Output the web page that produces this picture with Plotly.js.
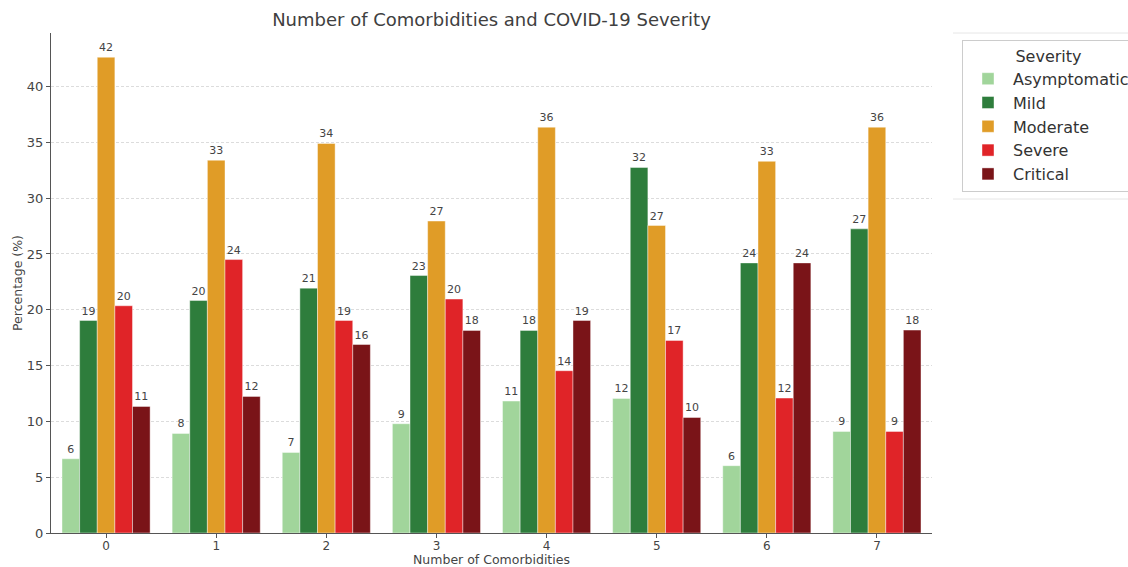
<!DOCTYPE html>
<html>
<head>
<meta charset="utf-8">
<script src="https://cdn.plot.ly/plotly-3.0.1.min.js"></script>
<style>
  html, body { margin: 0; padding: 0; background: #fff; }
  #chart { width: 1128px; height: 567px; }
</style>
</head>
<body>
<div id="chart"></div>
<script>
// Share of patients (%) in each severity class, by number of comorbidities
const comorbidities = ['0', '1', '2', '3', '4', '5', '6', '7'];
const asymptomatic = [6.65, 8.92, 7.22, 9.79, 11.82, 12.06, 6.03, 9.10];
const mild         = [19.04, 20.83, 21.94, 23.07, 18.15, 32.75, 24.20, 27.25];
const moderate     = [42.63, 33.40, 34.90, 27.95, 36.36, 27.55, 33.30, 36.36];
const severe       = [20.36, 24.50, 19.04, 20.96, 14.54, 17.25, 12.09, 9.10];
const critical     = [11.34, 12.24, 16.89, 18.15, 19.04, 10.35, 24.20, 18.18];

const severityNames = ['Asymptomatic', 'Mild', 'Moderate', 'Severe', 'Critical'];
const severityColors = ['#a1d59b', '#2e7d3c', '#e09c27', '#e02428', '#7a1418'];
const seriesValues = [asymptomatic, mild, moderate, severe, critical];

const FONT = 'DejaVu Sans, Liberation Sans, sans-serif';
const xIdx = comorbidities.map(function (_, i) { return i; });

const traces = seriesValues.map(function (vals, k) {
  return {
    type: 'bar',
    name: severityNames[k],
    x: xIdx,
    y: vals,
    text: vals.map(function (v) { return String(Math.floor(v)); }),
    textposition: 'outside',
    textfont: { family: FONT, size: 11, color: '#444' },
    constraintext: 'none',
    cliponaxis: false,
    marker: { color: severityColors[k], line: { color: 'rgba(255,255,255,0.7)', width: 0.6 } },
    hoverinfo: 'name+y'
  };
});

// plot area spans x 51..932 px and y 33..533 px
const PL = 51, PW = 881, PB = 533, PH = 500;

const layout = {
  width: 1128,
  height: 567,
  paper_bgcolor: '#ffffff',
  plot_bgcolor: '#ffffff',
  margin: { l: PL, r: 1128 - PL - PW, t: PB - PH, b: 567 - PB, autoexpand: false },
  barmode: 'group',
  bargap: 0.2,
  bargroupgap: 0,
  font: { family: FONT, color: '#444' },
  title: {
    text: 'Number of Comorbidities and COVID-19 Severity',
    font: { family: FONT, size: 18, color: '#404040' },
    x: 0.4357, xanchor: 'center',
    y: 0.965, yanchor: 'middle'
  },
  xaxis: {
    range: [-0.5, 7.5],
    tickmode: 'array',
    tickvals: xIdx,
    ticktext: comorbidities,
    ticks: 'outside', ticklen: 4, tickcolor: '#555', tickwidth: 1,
    ticklabelstandoff: -3,
    tickfont: { family: FONT, size: 12, color: '#444' },
    showline: true, linecolor: '#555', linewidth: 1.3,
    showgrid: false, zeroline: false
  },
  yaxis: {
    range: [0, 44.8],
    dtick: 5,
    ticks: 'outside', ticklen: 4, tickcolor: '#555', tickwidth: 1,
    tickfont: { family: FONT, size: 13, color: '#444' },
    showline: true, linecolor: '#555', linewidth: 1.3,
    showgrid: true, gridcolor: '#dcdcdc', gridwidth: 1, griddash: '3px,2px',
    zeroline: false
  },
  annotations: [
    { text: 'Number of Comorbidities', xref: 'paper', yref: 'paper',
      x: (491.5 - PL) / PW, y: (PB - 559.5) / PH, xanchor: 'center', yanchor: 'middle',
      borderpad: 0,
      showarrow: false, font: { family: FONT, size: 12.5, color: '#444' } },
    { text: 'Percentage (%)', xref: 'paper', yref: 'paper', textangle: -90,
      x: (17 - PL) / PW, y: (PB - 283) / PH, xanchor: 'center', yanchor: 'middle',
      showarrow: false, font: { family: FONT, size: 12.5, color: '#444' } }
  ],
  legend: {
    xref: 'container', yref: 'container',
    x: 962 / 1128, xanchor: 'left',
    y: 1 - 40 / 567, yanchor: 'top',
    bgcolor: '#ffffff',
    bordercolor: '#cccccc', borderwidth: 1,
    font: { family: FONT, size: 16, color: '#333' },
    title: { text: 'Severity', side: 'top center', font: { family: FONT, size: 16, color: '#333' } },
    tracegroupgap: 0,
    itemwidth: 40
  },
  shapes: [
    { type: 'line', xref: 'paper', yref: 'paper', x0: (953 - PL) / PW, x1: (1128 - PL) / PW, y0: 1, y1: 1,
      line: { color: '#e6e6e6', width: 1 } },
    { type: 'line', xref: 'paper', yref: 'paper', x0: (953 - PL) / PW, x1: (1128 - PL) / PW, y0: (PB - 199) / PH, y1: (PB - 199) / PH,
      line: { color: '#e6e6e6', width: 1 } }
  ]
};

Plotly.newPlot('chart', traces, layout, { displayModeBar: false, responsive: false });
</script>
</body>
</html>
